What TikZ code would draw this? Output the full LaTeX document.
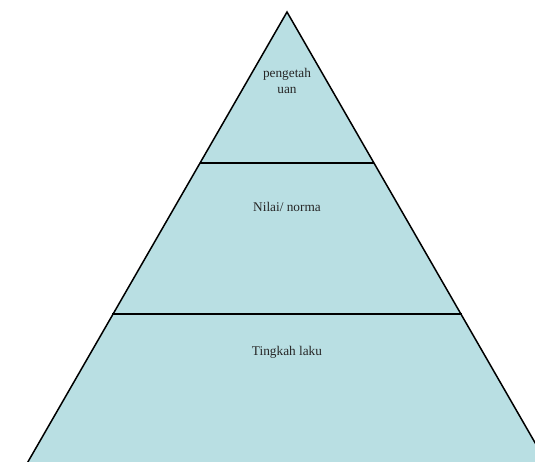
\documentclass[tikz,border=0pt]{standalone}
\usepackage{fontspec}
\setmainfont{Liberation Serif}
\definecolor{pyr}{RGB}{185,223,227}
\begin{document}
\begin{tikzpicture}[x=1pt,y=-1pt,
  edge/.style={draw=black,line width=1.5pt},
  lbl/.style={font=\fontsize{13.3}{16}\selectfont,align=center,text=black!85,inner sep=0pt}]
\useasboundingbox (0,0) rectangle (535,462);
\begin{scope}
\clip (0,0) rectangle (535,462);
\coordinate (apex) at (287,12);
\coordinate (bl) at (17.5,480);
\coordinate (br) at (556.5,480);
\coordinate (l1) at (199.6,163);
\coordinate (r1) at (374.4,163);
\coordinate (l2) at (112,314);
\coordinate (r2) at (462,314);
\fill[pyr] (apex) -- (bl) -- (br) -- cycle;
\draw[edge,line join=miter] (bl) -- (apex) -- (br);
\draw[edge] (l1) -- (r1);
\draw[edge] (l2) -- (r2);
\end{scope}
\node[lbl] (t1) at (287,81) {pengetah\\uan};
\node[lbl] (t2) at (287,207) {Nilai/ norma};
\node[lbl] (t3) at (287,352) {Tingkah laku};
\end{tikzpicture}
\end{document}
